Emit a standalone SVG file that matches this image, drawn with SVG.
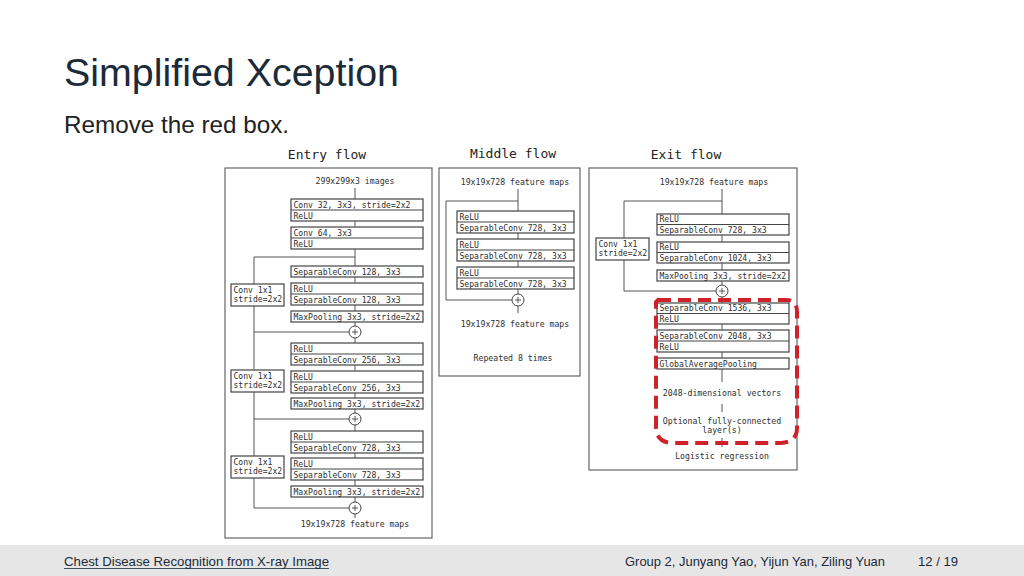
<svg xmlns="http://www.w3.org/2000/svg" width="1024" height="576" viewBox="0 0 1024 576">
<style>
.title{font-family:"Liberation Sans",Arial,sans-serif;font-size:38px;fill:#1c2b39}
.sub{font-family:"Liberation Sans",Arial,sans-serif;font-size:24px;fill:#222}
.foot{font-family:"Liberation Sans",Arial,sans-serif;font-size:13px;fill:#1c2b39}
.panel{fill:#fff;stroke:#666;stroke-width:1.2}
.box{fill:#fff;stroke:#444;stroke-width:1.2}
.div{stroke:#444;stroke-width:1}
.ln{stroke:#555;stroke-width:1;fill:none}
.plus{fill:#fff;stroke:#444;stroke-width:1}
.t{font-family:"DejaVu Sans Mono","Liberation Mono",monospace;font-size:8.1px;fill:#2e2e2e}
.tc{font-family:"DejaVu Sans Mono","Liberation Mono",monospace;font-size:8.2px;fill:#2e2e2e;text-anchor:middle}
.hd{font-family:"DejaVu Sans Mono","Liberation Mono",monospace;font-size:13px;fill:#222;text-anchor:middle}
.red{fill:none;stroke:#d0202a;stroke-width:4;stroke-dasharray:13 7}
</style>
<rect x="0" y="0" width="1024" height="576" fill="#fff"/>
<text class="title" x="64" y="86" textLength="335" lengthAdjust="spacingAndGlyphs">Simplified Xception</text>
<text class="sub" x="64" y="133" textLength="225" lengthAdjust="spacingAndGlyphs">Remove the red box.</text>

<g id="panels">
<rect class="panel" x="225" y="168" width="207" height="370"/>
<rect class="panel" x="439" y="168" width="141" height="208"/>
<rect class="panel" x="589" y="168" width="208" height="302"/>
<text class="hd" x="327" y="159">Entry flow</text>
<text class="hd" x="513" y="158">Middle flow</text>
<text class="hd" x="686" y="159">Exit flow</text>
</g>

<g id="connectors">
<path class="ln" d="M355 188V199M355 221V227M355 249V266M355 257H254V284M355 277V283M355 305V311M355 322V326M254 306V332H349"/>
<path class="ln" d="M355 338V343M355 365V371M355 393V398M355 409V413M254 332V370M254 392V419H349"/>
<path class="ln" d="M355 425V431M355 453V458M355 480V486M355 497V502M254 419V456M254 478V508H349M355 514V518"/>
<path class="ln" d="M518 189V211M518 201H446V300H512M518 233V239M518 261V267M518 289V294M518 306V313"/>
<path class="ln" d="M722 189V214M722 201H624V238M624 260V291H716M722 235V242M722 263V270M722 281V285M722 297V303M722 324V330M722 352V358M722 369V382M722 404V412M722 438V447"/>
</g>

<g id="entry-input"><text class="tc" x="355" y="184">299x299x3 images</text></g>
<g id="e-conv32"><rect class="box" x="291" y="199" width="132" height="22"/><line class="div" x1="291" y1="210" x2="423" y2="210"/><text class="t" x="293.5" y="207.5">Conv 32, 3x3, stride=2x2</text><text class="t" x="293.5" y="218.5">ReLU</text></g>
<g id="e-conv64"><rect class="box" x="291" y="227" width="132" height="22"/><line class="div" x1="291" y1="238" x2="423" y2="238"/><text class="t" x="293.5" y="235.5">Conv 64, 3x3</text><text class="t" x="293.5" y="246.5">ReLU</text></g>
<g id="e-sep128a"><rect class="box" x="291" y="266" width="132" height="11"/><text class="t" x="293.5" y="274.5">SeparableConv 128, 3x3</text></g>
<g id="e-sep128b"><rect class="box" x="291" y="283" width="132" height="22"/><line class="div" x1="291" y1="294" x2="423" y2="294"/><text class="t" x="293.5" y="291.5">ReLU</text><text class="t" x="293.5" y="302.5">SeparableConv 128, 3x3</text></g>
<g id="e-pool1"><rect class="box" x="291" y="311" width="132" height="11"/><text class="t" x="293.5" y="319.5">MaxPooling 3x3, stride=2x2</text></g>
<g id="e-plus1"><circle class="plus" cx="355" cy="332" r="6"/><path class="ln" d="M352 332H358M355 329V335"/></g>
<g id="e-skip1"><rect class="box" x="231" y="284" width="53" height="22"/><text class="t" x="233.5" y="292.5">Conv 1x1</text><text class="t" x="233.5" y="302">stride=2x2</text></g>

<g id="e-sep256a"><rect class="box" x="291" y="343" width="132" height="22"/><line class="div" x1="291" y1="354" x2="423" y2="354"/><text class="t" x="293.5" y="351.5">ReLU</text><text class="t" x="293.5" y="362.5">SeparableConv 256, 3x3</text></g>
<g id="e-sep256b"><rect class="box" x="291" y="371" width="132" height="22"/><line class="div" x1="291" y1="382" x2="423" y2="382"/><text class="t" x="293.5" y="379.5">ReLU</text><text class="t" x="293.5" y="390.5">SeparableConv 256, 3x3</text></g>
<g id="e-pool2"><rect class="box" x="291" y="398" width="132" height="11"/><text class="t" x="293.5" y="406.5">MaxPooling 3x3, stride=2x2</text></g>
<g id="e-plus2"><circle class="plus" cx="355" cy="419" r="6"/><path class="ln" d="M352 419H358M355 416V422"/></g>
<g id="e-skip2"><rect class="box" x="231" y="370" width="53" height="22"/><text class="t" x="233.5" y="378.5">Conv 1x1</text><text class="t" x="233.5" y="388">stride=2x2</text></g>

<g id="e-sep728a"><rect class="box" x="291" y="431" width="132" height="22"/><line class="div" x1="291" y1="442" x2="423" y2="442"/><text class="t" x="293.5" y="439.5">ReLU</text><text class="t" x="293.5" y="450.5">SeparableConv 728, 3x3</text></g>
<g id="e-sep728b"><rect class="box" x="291" y="458" width="132" height="22"/><line class="div" x1="291" y1="469" x2="423" y2="469"/><text class="t" x="293.5" y="466.5">ReLU</text><text class="t" x="293.5" y="477.5">SeparableConv 728, 3x3</text></g>
<g id="e-pool3"><rect class="box" x="291" y="486" width="132" height="11"/><text class="t" x="293.5" y="494.5">MaxPooling 3x3, stride=2x2</text></g>
<g id="e-plus3"><circle class="plus" cx="355" cy="508" r="6"/><path class="ln" d="M352 508H358M355 505V511"/></g>
<g id="e-skip3"><rect class="box" x="231" y="456" width="53" height="22"/><text class="t" x="233.5" y="464.5">Conv 1x1</text><text class="t" x="233.5" y="474">stride=2x2</text></g>
<g id="entry-output"><text class="tc" x="355" y="527">19x19x728 feature maps</text></g>

<g id="middle-input"><text class="tc" x="515" y="185">19x19x728 feature maps</text></g>
<g id="m-sep1"><rect class="box" x="457" y="211" width="117" height="22"/><line class="div" x1="457" y1="222" x2="574" y2="222"/><text class="t" x="459.5" y="219.5">ReLU</text><text class="t" x="459.5" y="230.5">SeparableConv 728, 3x3</text></g>
<g id="m-sep2"><rect class="box" x="457" y="239" width="117" height="22"/><line class="div" x1="457" y1="250" x2="574" y2="250"/><text class="t" x="459.5" y="247.5">ReLU</text><text class="t" x="459.5" y="258.5">SeparableConv 728, 3x3</text></g>
<g id="m-sep3"><rect class="box" x="457" y="267" width="117" height="22"/><line class="div" x1="457" y1="278" x2="574" y2="278"/><text class="t" x="459.5" y="275.5">ReLU</text><text class="t" x="459.5" y="286.5">SeparableConv 728, 3x3</text></g>
<g id="m-plus"><circle class="plus" cx="518" cy="300" r="6"/><path class="ln" d="M515 300H521M518 297V303"/></g>
<g id="middle-output"><text class="tc" x="515" y="327">19x19x728 feature maps</text></g>
<g id="middle-repeat"><text class="tc" x="513" y="361">Repeated 8 times</text></g>

<g id="exit-input"><text class="tc" x="714" y="185">19x19x728 feature maps</text></g>
<g id="x-sep728"><rect class="box" x="657" y="214" width="132" height="21"/><line class="div" x1="657" y1="224.5" x2="789" y2="224.5"/><text class="t" x="659.5" y="222">ReLU</text><text class="t" x="659.5" y="232.5">SeparableConv 728, 3x3</text></g>
<g id="x-sep1024"><rect class="box" x="657" y="242" width="132" height="21"/><line class="div" x1="657" y1="252.5" x2="789" y2="252.5"/><text class="t" x="659.5" y="250">ReLU</text><text class="t" x="659.5" y="260.5">SeparableConv 1024, 3x3</text></g>
<g id="x-pool"><rect class="box" x="657" y="270" width="132" height="11"/><text class="t" x="659.5" y="278.5">MaxPooling 3x3, stride=2x2</text></g>
<g id="x-skip"><rect class="box" x="596" y="238" width="53" height="22"/><text class="t" x="598.5" y="246.5">Conv 1x1</text><text class="t" x="598.5" y="256">stride=2x2</text></g>
<g id="x-plus"><circle class="plus" cx="722" cy="291" r="6"/><path class="ln" d="M719 291H725M722 288V294"/></g>
<g id="x-sep1536"><rect class="box" x="657" y="303" width="132" height="21"/><line class="div" x1="657" y1="313.5" x2="789" y2="313.5"/><text class="t" x="659.5" y="311">SeparableConv 1536, 3x3</text><text class="t" x="659.5" y="321.5">ReLU</text></g>
<g id="x-sep2048"><rect class="box" x="657" y="330" width="132" height="22"/><line class="div" x1="657" y1="341" x2="789" y2="341"/><text class="t" x="659.5" y="338.5">SeparableConv 2048, 3x3</text><text class="t" x="659.5" y="349.5">ReLU</text></g>
<g id="x-gap"><rect class="box" x="657" y="358" width="132" height="11"/><text class="t" x="659.5" y="366.5">GlobalAveragePooling</text></g>
<g id="x-vec"><text class="tc" x="722" y="396">2048-dimensional vectors</text></g>
<g id="x-fc"><text class="tc" x="722" y="424">Optional fully-connected</text><text class="tc" x="722" y="433">layer(s)</text></g>
<g id="x-logit"><text class="tc" x="722" y="459">Logistic regression</text></g>

<g id="red-box"><path class="red" d="M658 300H786Q797 300 797 312V428Q797 442 781 443H672Q656 442 656 427V302Z"/></g>

<g id="footer">
<rect x="0" y="545" width="1024" height="31" fill="#e6e6e6"/>
<text class="foot" x="64" y="566" textLength="265" lengthAdjust="spacingAndGlyphs">Chest Disease Recognition from X-ray Image</text>
<line x1="64" y1="568.5" x2="329" y2="568.5" stroke="#1c2b39" stroke-width="0.8"/>
<text class="foot" x="625" y="566" textLength="260" lengthAdjust="spacingAndGlyphs">Group 2, Junyang Yao, Yijun Yan, Ziling Yuan</text>
<text class="foot" x="918" y="566" textLength="40" lengthAdjust="spacingAndGlyphs">12 / 19</text>
</g>
</svg>
